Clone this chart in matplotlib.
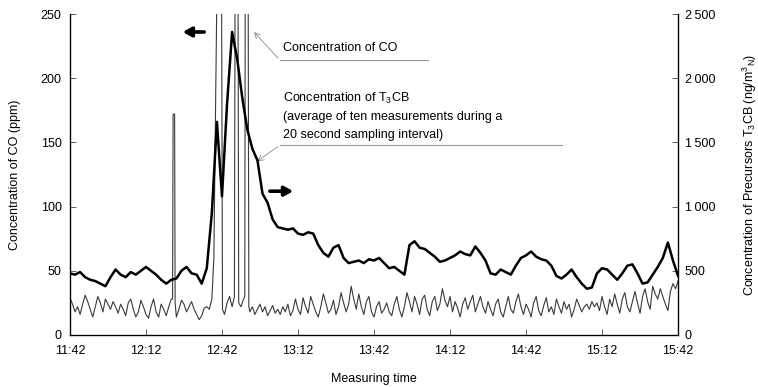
import numpy as np
import matplotlib
matplotlib.use('Agg')
import matplotlib.pyplot as plt

plt.rcParams['font.family'] = ['Liberation Sans', 'DejaVu Sans']
plt.rcParams['mathtext.default'] = 'regular'

# minutes after 11:42
tick_minutes = [0, 30, 60, 90, 120, 150, 180, 210, 240]
tick_labels = ['11:42', '12:12', '12:42', '13:12', '13:42', '14:12', '14:42', '15:12', '15:42']

# T3CB (ng/m3N), one value every 2 minutes
t3cb_minutes = np.arange(0, 241, 2)
t3cb = [480, 470, 490, 450, 430, 420, 400, 380, 450, 510,
        470, 450, 490, 470, 500, 530, 500, 470, 430, 400,
        430, 440, 500, 530, 480, 470, 400, 520, 950, 1660,
        1080, 1800, 2360, 2150, 1850, 1600, 1450, 1360, 1100, 1030,
        900, 840, 830, 820, 830, 790, 780, 800, 790, 700,
        640, 610, 680, 700, 600, 560, 570, 580, 560, 590,
        580, 600, 560, 520, 530, 500, 470, 700, 730, 680,
        670, 640, 610, 570, 580, 600, 620, 650, 630, 620,
        690, 640, 580, 480, 470, 510, 490, 470, 540, 600,
        620, 650, 610, 590, 580, 540, 460, 440, 470, 510,
        450, 400, 360, 370, 480, 520, 510, 470, 430, 480,
        540, 550, 480, 400, 410, 470, 530, 600, 720, 580,
        460]

# CO (ppm)
co_before = [29, 24, 18, 22, 16, 24, 31, 26, 20, 14,
             22, 30, 25, 18, 28, 24, 20, 26, 22, 17,
             24, 20, 15, 25, 28, 20, 14, 18, 27, 22,
             16, 13, 22, 28, 18, 14, 24, 20, 15, 22,
             28]
co_peak_minutes = [40.5, 40.7, 41.3, 41.5, 42, 43, 44, 45, 46, 47, 48, 49, 50, 51, 52, 53, 54, 55, 56,
                   56.8, 57.3, 58.2, 59.8, 60.2, 61, 62, 63, 64, 64.9, 65.2, 66.3, 66.6, 67.5, 68.5,
                   69.0, 69.2, 70.3, 70.6]
co_peak = [28, 172, 172, 25, 14, 20, 27, 24, 18, 22, 26, 20, 16, 12, 15, 21, 22, 20, 28,
           60, 150, 300, 300, 20, 16, 25, 30, 22, 30, 300, 300, 25, 22, 28,
           30, 300, 300, 22]
co_after = [18, 22, 16, 20, 24, 18, 22, 15, 19, 23,
            17, 20, 16, 22, 18, 24, 15, 19, 28, 20,
            16, 29, 22, 17, 30, 24, 18, 14, 22, 32,
            25, 17, 20, 27, 16, 22, 33, 25, 18, 24,
            38, 28, 20, 32, 22, 16, 26, 30, 18, 14,
            22, 26, 17, 20, 25, 18, 15, 24, 30, 20,
            14, 22, 33, 26, 18, 30, 24, 16, 28, 31,
            20, 15, 26, 30, 19, 24, 36, 27, 22, 30,
            18, 26, 21, 14, 24, 29, 20, 26, 31, 18,
            24, 30, 22, 17, 26, 20, 15, 24, 28, 18,
            14, 22, 30, 20, 17, 26, 32, 22, 16, 24,
            20, 14, 25, 30, 19, 15, 23, 29, 18, 22,
            16, 28, 22, 17, 26, 20, 24, 14, 20, 28,
            23, 18, 22, 24, 20, 26, 22, 25, 19, 30,
            22, 16, 28, 22, 32, 24, 17, 28, 33, 22,
            18, 26, 34, 25, 17, 30, 36, 26, 20, 38,
            32, 28, 36, 30, 24, 19, 34, 40, 36, 42]

co_minutes = list(range(0, 41)) + co_peak_minutes + list(range(71, 241))
co = co_before + co_peak + co_after

fig = plt.figure(figsize=(7.58, 3.87), dpi=100)
ax = fig.add_axes([0.0923, 0.1344, 0.8022, 0.8294])
ax2 = ax.twinx()

ax.plot(co_minutes, co, color='#3a3a3a', lw=0.8)
ax2.plot(t3cb_minutes, t3cb, color='black', lw=1.8)

ax.set_xlim(0, 240)
ax.set_ylim(0, 250)
ax2.set_ylim(0, 2500)
ax.set_xticks(tick_minutes)
ax.set_xticklabels(tick_labels)
ax.set_yticks([0, 50, 100, 150, 200, 250])
ax2.set_yticks([0, 500, 1000, 1500, 2000, 2500])
ax2.set_yticklabels(['0', '500', '1\u2009000', '1\u2009500', '2\u2009000', '2\u2009500'])

for a in (ax, ax2):
    a.spines['top'].set_visible(False)
    a.tick_params(direction='in', length=4, width=0.6, labelsize=9, color='#444444')
ax.tick_params(axis='x', pad=7)
ax.tick_params(axis='y', pad=6)
ax2.tick_params(axis='y', pad=5)
for s in ('left', 'bottom'):
    ax.spines[s].set_linewidth(0.9)
ax2.spines['right'].set_linewidth(0.9)

ax.set_xlabel('Measuring time', fontsize=9, labelpad=12)
ax.set_ylabel('Concentration of CO (ppm)', fontsize=9, labelpad=14)
ax2.set_ylabel('Concentration of Precursors T$_3$CB (ng/m$^3$$_N$)', fontsize=9, labelpad=18)

# direction arrows
ax.annotate('', xy=(43.4, 236), xytext=(54.1, 236),
            arrowprops=dict(arrowstyle='-|>,head_length=0.5,head_width=0.28', lw=2.6, color='black'))
ax.annotate('', xy=(89.2, 112), xytext=(77.8, 112),
            arrowprops=dict(arrowstyle='-|>,head_length=0.5,head_width=0.28', lw=2.6, color='black'))

# labels with leader lines
ax.text(84.1, 223.5, 'Concentration of CO', fontsize=9, va='center')
ax.plot([82.9, 141.3], [214, 214], color='#999999', lw=0.8, clip_on=False)
ax.annotate('', xy=(71.9, 237.5), xytext=(82.9, 214),
            arrowprops=dict(arrowstyle='->', lw=0.6, color='#888888'))

ax.text(84.1, 184.6, 'Concentration of T$_3$CB', fontsize=9, va='center')
ax.text(84.1, 169.8, '(average of ten measurements during a', fontsize=9, va='center')
ax.text(84.1, 155.8, '20 second sampling interval)', fontsize=9, va='center')
ax.plot([82.9, 194.2], [148, 148], color='#999999', lw=0.8, clip_on=False)
ax.annotate('', xy=(73.0, 134), xytext=(82.9, 148),
            arrowprops=dict(arrowstyle='->', lw=0.6, color='#888888'))

fig.savefig('out.png', dpi=100)
